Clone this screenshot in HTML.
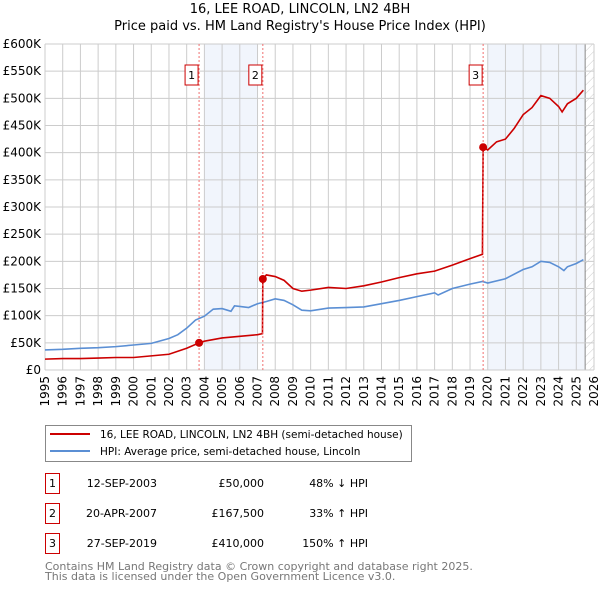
<!DOCTYPE html>
<html><head><meta charset="utf-8"><style>
body{margin:0;background:#fff}
svg{font-family:"DejaVu Sans","Liberation Sans",sans-serif}
</style></head><body>
<svg id="chart" width="600" height="590" xmlns="http://www.w3.org/2000/svg">
<defs><pattern id="hatch" width="6" height="6" patternUnits="userSpaceOnUse" patternTransform="rotate(45)"><line x1="0" y1="0" x2="0" y2="6" stroke="#ccc" stroke-width="1"/></pattern></defs>
<text x="300" y="13" text-anchor="middle" font-size="13">16, LEE ROAD, LINCOLN, LN2 4BH</text>
<text x="300" y="30" text-anchor="middle" font-size="13">Price paid vs. HM Land Registry's House Price Index (HPI)</text>
<g id="bg"></g><g id="grid"></g><g id="axes"></g><g id="series"></g><g id="marks"></g>
<g>
<rect x="45.5" y="425.5" width="366" height="36" fill="#fff" stroke="#888"/>
<line x1="50" y1="434" x2="90" y2="434" stroke="#cc0000" stroke-width="2"/>
<text x="100" y="438" font-size="10.5">16, LEE ROAD, LINCOLN, LN2 4BH (semi-detached house)</text>
<line x1="50" y1="451" x2="90" y2="451" stroke="#5b8fd4" stroke-width="2"/>
<text x="100" y="455" font-size="10.5">HPI: Average price, semi-detached house, Lincoln</text>
</g>
<g id="table" font-size="11"></g>
<text x="45" y="570" font-size="11" fill="#777">Contains HM Land Registry data © Crown copyright and database right 2025.</text>
<text x="45" y="580" font-size="11" fill="#777">This data is licensed under the Open Government Licence v3.0.</text>
</svg>
<script>
const hpiYears=[1995,1996,1997,1998,1999,2000,2001,2002,2002.5,2003,2003.5,2004,2004.5,2005,2005.5,2005.7,2006,2006.5,2007,2007.5,2008,2008.5,2009,2009.5,2010,2011,2012,2013,2014,2015,2016,2017,2017.2,2018,2019,2019.7,2020,2021,2022,2022.5,2023,2023.5,2024,2024.3,2024.5,2025,2025.4];
const hpiValues=[37,38,40,41,43,46,49,58,65,77,92,99,112,113,108,118,117,115,122,126,131,128,120,110,109,114,115,116,122,128,135,142,138,150,158,163,160,168,185,190,200,198,190,183,190,196,203];
const priceYears=[1995,1996,1997,1998,1999,2000,2001,2002,2003,2003.7,2004,2005,2006,2007,2007.28,2007.3,2007.5,2008,2008.5,2009,2009.5,2010,2011,2012,2013,2014,2015,2016,2017,2018,2019,2019.7,2019.74,2020,2020.5,2021,2021.5,2022,2022.5,2023,2023.5,2024,2024.2,2024.5,2025,2025.4];
const priceValues=[20,21,21,22,23,23,26,29,40,50,53,59,62,65,67,167.5,175,172,165,150,145,147,152,150,155,162,170,177,182,193,205,213,410,405,420,425,445,470,483,505,500,485,475,490,500,515];
const saleLabels=["1","2","3"];
const saleYears=[2003.7,2007.3,2019.74];
const saleValues=[50,167.5,410];
const saleDates=["12-SEP-2003","20-APR-2007","27-SEP-2019"];
const salePrices=["£50,000","£167,500","£410,000"];
const saleHpi=["48% ↓ HPI","33% ↑ HPI","150% ↑ HPI"];
const yTicks=[0,50,100,150,200,250,300,350,400,450,500,550,600];
const yTickLabels=["£0","£50K","£100K","£150K","£200K","£250K","£300K","£350K","£400K","£450K","£500K","£550K","£600K"];
const xTicks=[1995,1996,1997,1998,1999,2000,2001,2002,2003,2004,2005,2006,2007,2008,2009,2010,2011,2012,2013,2014,2015,2016,2017,2018,2019,2020,2021,2022,2023,2024,2025,2026];
const shadeBands=[[2004,2007],[2020,2025.5]];
const dataEnd=2025.5;

const NS="http://www.w3.org/2000/svg";
const L=45,R=594,T=44,B=370;
const x=v=>L+(v-1995)/31*(R-L);
const y=v=>B-v/600*(B-T);
function mk(parent,tag,attrs){const e=document.createElementNS(NS,tag);for(const k in attrs)e.setAttribute(k,attrs[k]);document.getElementById(parent).appendChild(e);return e;}

shadeBands.forEach((b,i)=>{
 const r=mk('bg','rect',{x:x(b[0]),y:T,width:x(b[1])-x(b[0]),height:B-T,fill:'#eef3fb',opacity:0.8});
 
 
});
const h=mk('bg','rect',{x:x(dataEnd),y:T,width:R-x(dataEnd),height:B-T,fill:'url(#hatch)'});


const hl=mk('bg','line',{x1:x(dataEnd),x2:x(dataEnd),y1:T,y2:B,stroke:'#888'});



yTicks.forEach((t,i)=>{
 const g=mk('grid','line',{x1:L,x2:R,y1:y(t),y2:y(t),stroke:'#ccc'});
 
 
 const tx=mk('axes','text',{x:L-4,y:y(t)+4,'text-anchor':'end','font-size':12});
 tx.textContent=yTickLabels[i];
 
 
});
xTicks.forEach(t=>{
 const g=mk('grid','line',{x1:x(t),x2:x(t),y1:T,y2:B,stroke:'#ccc'});
 
 
 const tx=mk('axes','text',{x:x(t)+4,y:B+6,'text-anchor':'end','font-size':12,transform:`rotate(-90 ${x(t)+4} ${B+6})`});
 tx.textContent=t;
 
 
});

function line(xs,vs,color,name){
 const p=mk('series','polyline',{points:xs.map((v,i)=>x(v)+','+y(vs[i])).join(' '),fill:'none',stroke:color,'stroke-width':1.6});
 
 
}
line(hpiYears,hpiValues,'#5b8fd4','hpi-line');
line(priceYears,priceValues,'#cc0000','price-line');

saleYears.forEach((s,i)=>{
 const v=mk('marks','line',{x1:x(s),x2:x(s),y1:T,y2:B,stroke:'#f07070','stroke-dasharray':'2,2'});
 
 
 const c=mk('marks','circle',{cx:x(s),cy:y(saleValues[i]),r:4,fill:'#cc0000'});
 
 
 const bx=mk('marks','rect',{x:x(s)-14,y:65,width:13,height:20,fill:'#fff',stroke:'#cc0000'});
 
 
 const bt=mk('marks','text',{x:x(s)-7.5,y:79,'text-anchor':'middle','font-size':11});
 bt.textContent=saleLabels[i];
 
 
 const ry=483+i*30;
 const tb=mk('table','rect',{x:45.5,y:ry-9.5,width:14,height:20,fill:'#fff',stroke:'#cc0000'});
 
 
 const tn=mk('table','text',{x:52.5,y:ry+4,'text-anchor':'middle'});
 tn.textContent=saleLabels[i];
 
 
 const td=mk('table','text',{x:157,y:ry+4,'text-anchor':'end'});
 td.textContent=saleDates[i];
 
 
 const tp=mk('table','text',{x:264,y:ry+4,'text-anchor':'end'});
 tp.textContent=salePrices[i];
 
 
 const th=mk('table','text',{x:368,y:ry+4,'text-anchor':'end'});
 th.textContent=saleHpi[i];
 
 
});
</script>
</body></html>
